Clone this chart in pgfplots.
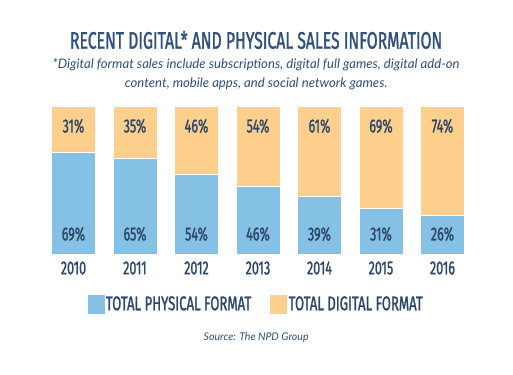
\documentclass[border=0pt]{standalone}
\usepackage{pgfplots}
\pgfplotsset{compat=1.18}
\usepackage{fontspec}
\setmainfont{Lato}
\newfontfamily\bebas[FakeStretch=0.66, FakeBold=1.2]{Fira Sans}
\definecolor{navy}{HTML}{2F507A}
\definecolor{txt}{HTML}{2C4668}
\definecolor{phys}{HTML}{85C1E5}
\definecolor{digi}{HTML}{FFCF8E}
\tikzset{lab/.style={text=txt, font=\bebas\fontsize{19}{19}\selectfont}}
\pgfplotstableread{
x phys digi
0 69 31
1 65 35
2 54 46
3 46 54
4 39 61
5 31 69
6 26 74
}\sales
\begin{document}
\begin{tikzpicture}
\useasboundingbox[fill=white] (0,0) rectangle (513bp,375bp);
\begin{axis}[
  at={(0,0)}, anchor=south west,
  scale only axis, width=513bp, height=375bp,
  xmin=-1.1951, xmax=7.1463, ymin=-81.76, ymax=171.62,
  axis lines=none,
  ybar stacked, bar width=44bp,
  legend columns=2,
  legend style={at={(axis cs:2.97,-33.8)}, anchor=center, draw=none, fill=none,
    text=txt, font=\bebas\fontsize{20}{20}\selectfont,
    /tikz/every even column/.append style={column sep=17bp}},
  clip=false,
]
\addplot[fill=phys, draw=white, line width=0.4pt,
  legend image code/.code={\fill[phys] (0bp,-9bp) rectangle (16bp,9bp);}]
  table[x=x,y=phys]{\sales};
\addlegendentry{TOTAL PHYSICAL FORMAT}
\addplot[fill=digi, draw=white, line width=0.4pt,
  legend image code/.code={\fill[digi] (0bp,-9bp) rectangle (16bp,9bp);}]
  table[x=x,y=digi]{\sales};
\addlegendentry{TOTAL DIGITAL FORMAT}
\foreach \i in {0,...,6}{
  \edef\tmp{\noexpand\coordinate (t\i) at (axis cs:\i,86.5);
    \noexpand\coordinate (b\i) at (axis cs:\i,13.5);
    \noexpand\coordinate (y\i) at (axis cs:\i,-9.5);}
  \tmp
}
\coordinate (ti) at (axis cs:2.97,144.6);
\coordinate (s1) at (axis cs:2.97,127.7);
\coordinate (s2) at (axis cs:2.97,114.9);
\coordinate (src) at (axis cs:2.97,-56.1);
\end{axis}
\foreach \i/\p/\d/\y in {0/69/31/2010,1/65/35/2011,2/54/46/2012,3/46/54/2013,4/39/61/2014,5/31/69/2015,6/26/74/2016}{
  \node[lab] at (t\i) {\d\%};
  \node[lab] at (b\i) {\p\%};
  \node[lab] at (y\i) {\y};
}
\node[text=navy, font=\bebas\fontsize{24}{24}\selectfont] at (ti) {RECENT DIGITAL* AND PHYSICAL SALES INFORMATION};
\node[text=navy, font=\itshape\fontsize{13.2}{13.2}\selectfont] at (s1) {*Digital format sales include subscriptions, digital full games, digital add-on};
\node[text=navy, font=\itshape\fontsize{13.2}{13.2}\selectfont] at (s2) {content, mobile apps, and social network games.};
\node[text=navy, font=\itshape\fontsize{10.6}{10.6}\selectfont] at (src) {Source: The NPD Group};
\end{tikzpicture}
\end{document}
